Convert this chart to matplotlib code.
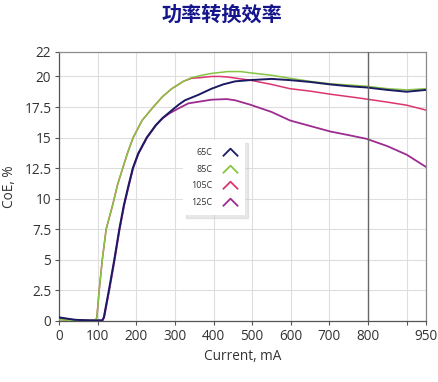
import matplotlib
matplotlib.use("Agg")
import matplotlib.pyplot as plt
from matplotlib.path import Path
from matplotlib.lines import Line2D

plt.rcParams['font.family'] = ['Open Sans', 'DejaVu Sans']

title = "功率转换效率"
xlabel = "Current, mA"
ylabel = "CoE, %"
series_names = ["65C", "85C", "105C", "125C"]
colors = ["#1c1a63", "#86c53f", "#dc3470", "#9c2c90"]

x_65 = [0, 10, 40, 80, 112, 116, 129, 143, 156, 168, 180, 191, 205, 227, 250, 268, 287, 310, 326,
        361, 395, 425, 456, 494, 550, 598, 650, 702, 750, 796, 850, 900, 950]
y_65 = [0.3, 0.25, 0.1, 0.05, 0.05, 0.3, 2.5, 5.0, 7.5, 9.5, 11.1, 12.5, 13.7, 15.0, 16.0, 16.6,
        17.1, 17.7, 18.05, 18.5, 19.0, 19.35, 19.6, 19.7, 19.8, 19.7, 19.55, 19.35, 19.2, 19.1,
        18.9, 18.75, 18.9]

x_85 = [0, 30, 60, 95, 98, 104, 112, 122, 139, 152, 165, 178, 192, 215, 244, 268, 292, 322, 343,
        370, 395, 437, 470, 494, 550, 598, 650, 702, 750, 796, 850, 900, 950]
y_85 = [0.12, 0.05, 0.05, 0.05, 0.3, 2.5, 5.0, 7.5, 9.5, 11.2, 12.5, 13.8, 15.0, 16.4, 17.5, 18.35,
        19.0, 19.6, 19.9, 20.1, 20.25, 20.4, 20.4, 20.3, 20.1, 19.85, 19.6, 19.4, 19.3, 19.2,
        19.0, 18.9, 19.0]

x_105 = [0, 30, 60, 95, 98, 104, 112, 122, 139, 152, 165, 178, 192, 215, 244, 268, 292, 322, 343,
         365, 395, 417, 437, 494, 550, 598, 650, 702, 750, 796, 850, 900, 950]
y_105 = [0.12, 0.05, 0.05, 0.05, 0.3, 2.5, 5.0, 7.5, 9.5, 11.2, 12.5, 13.8, 15.0, 16.4, 17.5,
         18.35, 19.0, 19.6, 19.85, 19.9, 20.0, 20.0, 19.95, 19.7, 19.35, 19.0, 18.8, 18.55,
         18.35, 18.15, 17.9, 17.65, 17.25]

x_125 = [0, 10, 40, 80, 113, 117, 130, 144, 157, 169, 181, 192, 206, 228, 251, 269, 287, 310, 335,
         365, 395, 434, 456, 494, 550, 598, 650, 702, 750, 796, 850, 900, 950]
y_125 = [0.25, 0.2, 0.1, 0.05, 0.05, 0.3, 2.5, 5.0, 7.5, 9.5, 11.1, 12.5, 13.7, 15.0, 16.0, 16.6,
         17.0, 17.4, 17.8, 17.95, 18.1, 18.15, 18.05, 17.7, 17.1, 16.4, 15.95, 15.5, 15.2, 14.9,
         14.3, 13.6, 12.6]

xticks = [0, 100, 200, 300, 400, 500, 600, 700, 800, 900, 950]
xticklabels = ["0", "100", "200", "300", "400", "500", "600", "700", "800", "", "950"]
yticks = [0, 2.5, 5, 7.5, 10, 12.5, 15, 17.5, 20, 22]
yticklabels = ["0", "2.5", "5", "7.5", "10", "12.5", "15", "17.5", "20", "22"]
cursor_x = 800

fig = plt.figure(figsize=(4.38, 3.82), dpi=100)
ax = fig.add_axes([59/438, 1-321/382, (426-59)/438, (321-52)/382])

ax.plot(x_105, y_105, color=colors[2], lw=1.1, zorder=3)
ax.plot(x_85, y_85, color=colors[1], lw=1.1, zorder=4)
ax.plot(x_125, y_125, color=colors[3], lw=1.3, zorder=3)
ax.plot(x_65, y_65, color=colors[0], lw=1.4, zorder=4)

ax.axvline(cursor_x, color="#666666", lw=1.0, zorder=5)

ax.set_xlim(0, 950)
ax.set_ylim(0, 22)
ax.set_xticks(xticks)
ax.set_xticklabels(xticklabels)
ax.set_yticks(yticks)
ax.set_yticklabels(yticklabels)
ax.grid(True, color="#dedede", lw=0.8, zorder=0)
ax.set_axisbelow(True)
for s in ax.spines.values():
    s.set_color("#8a8a8a")
    s.set_linewidth(0.9)
ax.spines['left'].set_color("#555555")
ax.spines['bottom'].set_color("#555555")
ax.tick_params(axis='both', labelsize=9.8, colors="#555555", labelcolor="#333333",
               length=3, width=0.8, direction='out', pad=2.5)

ax.set_xlabel(xlabel, fontsize=9.8, color="#333333", labelpad=4)
ax.set_ylabel(ylabel, fontsize=9.8, color="#333333", labelpad=5)

fig.text(222/438, 1-14/382, title, ha='center', va='center', fontsize=14.5,
         fontweight='bold', color="#14148c", family=['Noto Sans CJK SC', 'DejaVu Sans'])

chev = Path([(-1, -0.5), (0, 0.5), (1, -0.5)], [Path.MOVETO, Path.LINETO, Path.LINETO])
handles = [Line2D([], [], linestyle='none', marker=chev, markersize=11, markeredgewidth=1.3,
                  markeredgecolor=c, markerfacecolor='none', fillstyle='none') for c in colors]
leg = ax.legend(handles, series_names, loc='upper left',
                bbox_to_anchor=((183-59)/367, (321-140)/269), borderaxespad=0,
                markerfirst=False, fontsize=6.5, frameon=True, fancybox=False,
                shadow={'color': '#cccccc', 'alpha': 0.45}, labelspacing=0.85,
                handletextpad=1.2, borderpad=0.9, handlelength=1.5)
leg.get_frame().set_edgecolor('none')
leg.get_frame().set_facecolor('white')
leg.get_frame().set_alpha(1)
for t in leg.get_texts():
    t.set_color("#333333")

fig.savefig("out.png", dpi=100)
